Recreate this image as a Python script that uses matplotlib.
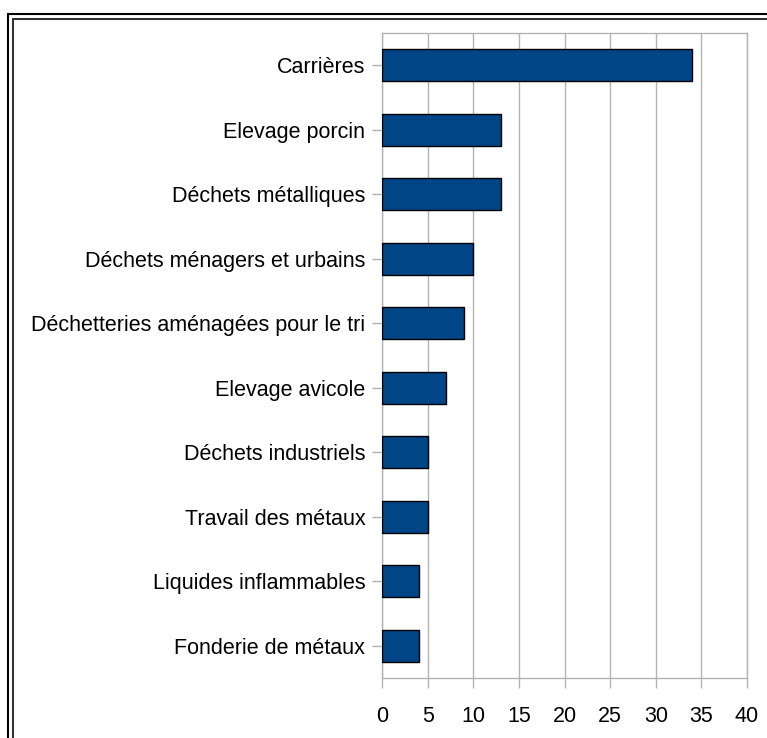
import matplotlib.pyplot as plt
from matplotlib.patches import Rectangle

categories = [
    "Carrières",
    "Elevage porcin",
    "Déchets métalliques",
    "Déchets ménagers et urbains",
    "Déchetteries aménagées pour le tri",
    "Elevage avicole",
    "Déchets industriels",
    "Travail des métaux",
    "Liquides inflammables",
    "Fonderie de métaux",
]
values = [34, 13, 13, 10, 9, 7, 5, 5, 4, 4]
x_ticks = [0, 5, 10, 15, 20, 25, 30, 35, 40]

plt.rcParams["font.family"] = ["Liberation Sans", "DejaVu Sans"]

W, H = 767, 738
fig = plt.figure(figsize=(W / 100, H / 100), dpi=100)
ax = fig.add_axes([382 / W, 1 - 678 / H, 365 / W, 645 / H])

pos = list(range(len(categories)))
ax.barh(pos, values, height=0.5, color="#004586", edgecolor="black", linewidth=1, zorder=3)

ax.set_ylim(len(categories) - 0.5, -0.5)
ax.set_xlim(0, 40)
ax.set_yticks(pos)
ax.set_yticklabels(categories, fontsize=15.5)
ax.set_xticks(x_ticks)
ax.set_xticklabels([str(t) for t in x_ticks], fontsize=15.5)

ax.grid(axis="x", color="#b3b3b3", linewidth=1, zorder=0)
for s in ["top", "right", "left", "bottom"]:
    ax.spines[s].set_color("#b3b3b3")
    ax.spines[s].set_linewidth(1)
ax.tick_params(axis="both", color="#b3b3b3", length=7, width=1, labelcolor="black")
ax.tick_params(axis="x", pad=13)
ax.tick_params(axis="y", pad=5)

# frame around the figure
fig.patches.append(Rectangle((8 / W, -0.1), 1.2, 1 - 14 / H + 0.1, transform=fig.transFigure,
                             fill=False, edgecolor="black", linewidth=1.5))
fig.patches.append(Rectangle((12.5 / W, -0.1), 1.2, 1 - 19 / H + 0.1, transform=fig.transFigure,
                             fill=False, edgecolor="#333333", linewidth=1.5))

fig.savefig("out.png", dpi=100)
